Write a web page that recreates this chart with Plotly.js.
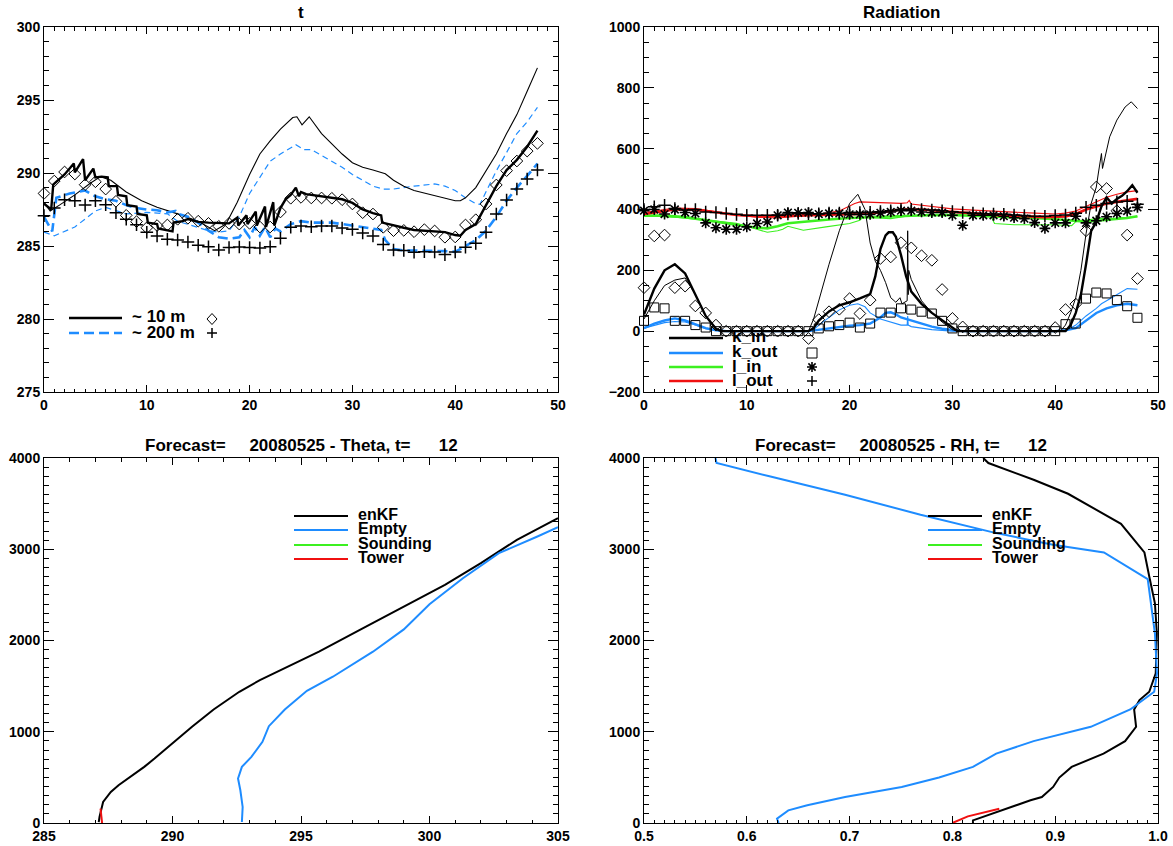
<!DOCTYPE html>
<html>
<head>
<meta charset="utf-8">
<script src="https://cdn.plot.ly/plotly-3.0.1.min.js"></script>
<style>html,body{margin:0;padding:0;background:#fff}#chart{width:1173px;height:846px}</style>
</head>
<body>
<div id="chart"></div>
<script>
// ---------------- DATA ----------------
// Panel "t": hourly observations
const hours = [0,1,2,3,4,5,6,7,8,9,10,11,12,13,14,15,16,17,18,19,20,21,22,23,24,25,26,27,28,29,30,31,32,33,34,35,36,37,38,39,40,41,42,43,44,45,46,47,48];
const t10Obs = [288.6,289.45,290.07,289.93,289.2,289.4,288.9,288.06,287.1,286.67,286.25,286.4,286.44,286.83,286.9,286.7,286.55,286.35,286.55,286.5,286.55,286.3,286.3,287.33,288.27,288.33,288.29,288.29,288.27,288.17,287.88,287.28,287.19,286.28,286.05,286.07,285.98,286.12,286.03,285.6,285.62,286.44,286.8,287.88,289.18,290.16,290.82,291.5,292.03];
const t200Obs = [287.08,287.6,288.17,288.1,287.8,288.1,287.83,287.28,286.83,286.46,285.94,285.68,285.46,285.41,285.27,285.05,284.95,284.73,284.9,284.93,284.89,284.86,284.95,285.53,286.28,286.37,286.32,286.37,286.37,286.23,286.14,285.89,285.68,285.11,284.73,284.7,284.57,284.61,284.59,284.41,284.59,284.91,285.18,285.94,287.19,288.15,288.9,289.59,290.21];

// Panel "t": model lines
const t10EnkfX = [0,0.7,0.9,2.0,2.9,3.0,3.8,4.0,4.8,5.0,5.6,6.2,6.3,7.1,7.2,8.0,8.1,9.0,9.1,10.0,10.1,11.0,11.1,12.5,12.6,13.5,14.0,15.0,16.0,17.0,18.0,18.8,18.9,19.7,19.8,20.6,20.7,21.5,21.6,22.3,22.4,23.0,23.5,24.0,24.5,24.8,25.0,25.5,26.0,27.0,28.0,29.0,30.0,31.0,32.0,32.8,32.9,34.0,35.0,36.0,37.0,38.0,39.0,40.0,40.5,41.0,42.0,43.0,44.0,45.0,46.0,47.0,48.0];
const t10EnkfY = [287.9,287.5,289.2,289.9,290.65,290.05,290.95,289.5,290.3,289.7,289.75,289.7,289.1,289.1,288.5,288.4,287.8,287.7,287.2,287.1,286.6,286.5,286.2,286.0,286.6,286.7,286.85,286.65,286.6,286.6,286.55,286.95,286.4,287.1,286.5,287.35,286.4,287.7,286.3,288.0,286.4,287.6,288.2,288.5,289.0,288.4,288.7,288.55,288.5,288.45,288.35,288.2,287.95,287.5,287.25,287.1,286.6,286.4,286.25,286.1,286.05,286.0,285.95,285.75,285.7,286.1,286.5,287.8,289.1,290.2,290.9,291.8,292.9];
const t10EmptyX = [0,0.6,1.5,3,4.5,5.5,6.5,8,9.5,11,13,15,16.6,17.7,18.8,20,21,22,23,24.2,24.6,25.1,25.8,27,28,29,30,31,32,33.2,34,35,36,38,40,40.5,41,42,43,44,45,46,47,48];
const t10EmptyY = [288.0,287.4,287.8,288.5,289.3,289.75,289.5,288.7,288.1,287.65,287.2,286.7,286.05,286.5,288.0,289.9,291.3,292.2,293.0,293.8,293.85,293.3,293.85,292.7,292.0,291.3,290.7,290.4,290.2,289.95,289.5,289.1,288.8,288.45,288.1,288.1,288.3,289.0,290.2,291.3,292.7,294.0,295.6,297.2];
const t200EnkfX = [0,0.6,0.8,1.2,2.5,4,5,6,7,8,9,10,11,12,12.8,13,14,15,16,17,18,19,19.5,20,20.5,21,21.5,22,22.5,23,24,25,26,27,28,29,30,31,32,32.8,33.2,34,35,36,37,38,39,40,41,42,43,44,45,46,47,48];
const t200EnkfY = [287.0,286.2,286.0,288.3,288.6,288.8,288.4,288.2,288.1,287.8,287.6,287.5,287.45,287.3,287.4,287.2,287.0,286.6,286.05,285.6,285.5,285.6,286.1,285.6,286.3,285.7,286.3,285.6,286.2,286.0,286.5,286.7,286.6,286.6,286.6,286.5,286.4,286.3,286.2,286.1,285.4,284.8,284.7,284.7,284.7,284.7,284.65,284.6,285.0,285.4,286.05,287.0,288.1,289.0,289.8,290.65];
const t200EmptyX = [0,1,3,5,6,8,10,12,13,15,16,17,18,19,20,21,22,23,24,24.5,25.3,26,27,28,29,30,31,32,33,34,36,38,39,40,41,42,42.4,43,44,45,46,47,48];
const t200EmptyY = [285.95,285.7,286.3,287.4,287.65,287.2,287.3,287.2,286.7,286.3,286.05,285.95,286.05,287.0,288.6,289.7,290.8,291.3,291.76,291.94,291.6,291.6,291.2,290.8,290.4,289.9,289.5,289.1,288.9,288.9,289.1,289.25,289.1,288.8,288.3,287.9,287.85,288.7,290.15,291.4,292.7,293.5,294.5];

// Panel "Radiation": hourly observations
const kInObs  = [143,313,316,143,148,83,60,20,0,0,0,0,0,0,0,0,-24,38,64,72,107,58,102,239,244,291,274,248,233,137,42,14,0,0,0,0,0,0,0,0,12,71,89,330,474,469,396,316,173];
const kOutObs = [34,78,75,34,34,20,12,0,0,0,0,0,0,0,0,0,0,9,16,20,28,12,25,61,61,75,71,64,58,34,9,0,0,0,0,0,0,0,0,0,0,23,25,107,127,124,102,82,44];
const lInObs  = [396,400,385,400,390,387,356,340,335,335,343,354,359,381,390,389,390,385,387,387,384,384,384,389,392,396,396,392,390,390,381,348,381,381,381,378,373,370,357,338,356,356,378,356,363,376,387,395,407];
const lOutObs = [400,409,414,403,398,400,392,390,387,384,381,381,381,381,385,387,386,386,388,388,390,390,391,393,396,400,401,400,398,396,393,390,388,386,385,384,382,380,378,378,380,382,388,407,414,420,425,427,417];

// Panel "Radiation": model lines
const kInEnkfX = [0,1,2,3,4,5,6,7,7.5,16,16.5,17,18,19,20,21,22,22.5,23,23.5,23.8,24.2,24.5,25,25.5,26,27,28,29,30,30.5,41,41.5,42,42.5,43,43.5,44,44.5,45,45.5,46,46.5,47,47.5,48];
const kInEnkfY = [55,140,200,220,190,120,50,8,0,0,10,35,65,85,95,108,122,180,270,315,325,325,310,250,180,130,90,60,35,10,0,0,20,60,120,220,330,360,410,440,420,435,445,460,480,455];
const kInEmptyX = [0,1,2,3,4,5,6,7,7.5,16,16.5,17,18,19,20,20.8,21.5,22,22.5,23,23.5,24,24.5,24.9,25.1,25.6,25.65,25.7,25.75,26,27,28,29,30,30.5,40.5,41,41.5,42,42.5,43,43.5,44,44.2,44.5,44.6,45.3,46,46.8,47.4,48];
const kInEmptyY = [40,100,150,168,175,120,50,10,0,0,40,100,220,330,420,450,400,290,230,200,160,110,95,110,90,100,330,120,200,170,100,60,30,5,0,0,20,60,110,200,320,420,474,520,584,535,639,694,737,754,732];
const kOutEnkfX = [0,1,2,3,4,5,6,7,8,16,17,18,19,20,21,22,23,23.5,24,24.5,25,26,27,28,29,30,31,40,41,42,43,44,45,46,47,48];
const kOutEnkfY = [10,25,35,42,35,22,10,3,0,0,5,10,15,18,20,25,45,60,62,55,45,35,25,15,8,3,0,0,3,10,35,60,75,85,90,85];
const kOutEmptyX = [0,1,2,3,4,5,6,7,8,16,16.5,17,18,19,20,20.8,21.5,22,23,24,24.5,25,25.6,25.65,25.7,26,27,28,30,41,42,43,44,44.5,45,46,47,48];
const kOutEmptyY = [10,20,28,32,30,20,8,2,0,0,5,20,45,70,85,90,80,60,40,30,25,20,20,50,20,15,10,5,0,0,20,50,75,90,100,120,140,138];
const lInEnkfX = [0,2,4,6,8,10,11,12,13,14,16,18,20,22,24,26,28,30,32,34,36,38,40,42,43,44,46,47,48];
const lInEnkfY = [380,380,375,365,355,345,340,338,345,355,362,367,372,375,378,380,382,382,380,378,375,372,368,362,360,363,368,372,378];
const lInEmptyX = [0,3,6,9,10.5,12,13,13.5,14,15.5,17.7,20,21,21.3,24,25,26,30,33.7,34.1,36,40,41.6,42,44,46,48];
const lInEmptyY = [380,375,365,355,340,325,330,335,345,332,343,354,365,375,370,376,380,380,381,354,350,350,347,360,370,372,376];
const lOutEnkfX = [0,3,5,7,9,11,13,15,17,19,21,23,25,27,29,31,33,35,37,39,41,42,43,44,45,46,47,48];
const lOutEnkfY = [385,400,400,390,382,378,378,380,382,383,385,390,400,400,395,390,385,380,378,375,377,385,400,410,420,425,430,435];
const lOutEmptyX = [0,3,5,7,9,11,13,15,17,19,20.5,21,23,25,25.6,25.8,26,28,30,32,35,38,40,41,42,43,44,45,46,47,48];
const lOutEmptyY = [390,405,403,392,382,375,372,378,385,395,420,425,422,420,422,430,418,410,402,398,392,388,385,388,395,410,425,440,450,458,462];

// Panel Theta profile
const thetaEnkfT = [287.13,287.16,287.3,287.6,287.9,288.9,289.3,289.9,290.76,291.6,292.6,293.4,294.2,295.7,297.4,299.1,300.6,302.0,303.4,305.0];
const thetaEnkfZ = [10,66,231,340,414,615,706,853,1054,1244,1438,1566,1676,1877,2133,2390,2609,2847,3103,3341];
const thetaEmptyT = [292.7,292.73,292.64,292.55,292.7,293.07,293.5,293.75,294.37,295.23,296.24,297.8,299.0,300.0,301.3,302.7,304.2,305.0];
const thetaEmptyZ = [11,176,359,487,615,725,889,1061,1244,1449,1603,1877,2122,2397,2682,2957,3140,3242];
const thetaTowerT = [287.26,287.23,287.2];
const thetaTowerZ = [0,66,157];

// Panel RH profile
const rhEnkfR = [0.83,0.835,0.879,0.9125,0.964,0.9868,0.9915,0.997,0.9989,0.9978,0.9915,0.982,0.9768,0.9787,0.968,0.947,0.916,0.904,0.898,0.887,0.876,0.857,0.82,0.82];
const rhEnkfZ = [4000,3945,3762,3608,3279,2965,2701,2408,2079,1640,1438,1347,1244,1054,897,761,615,498,395,285,249,176,29,0];
const rhEmptyR = [0.5695,0.5706,0.622,0.6956,0.769,0.8426,0.8978,0.9474,0.99,0.9934,0.997,0.999,0.9963,0.973,0.9346,0.879,0.8426,0.82,0.787,0.7507,0.6956,0.6588,0.6404,0.6294,0.631];
const rhEmptyZ = [4000,3945,3799,3598,3378,3177,3049,2965,2672,2371,2079,1640,1438,1244,1054,897,761,615,498,395,285,194,139,48,0];
const rhTowerR = [0.8,0.806,0.811,0.815,0.8456];
const rhTowerZ = [0,29,48,73,157];

// Text
const titles = ['t', 'Radiation',
  'Forecast=\u00a0\u00a0\u00a0\u00a0\u00a020080525 - Theta, t=\u00a0\u00a0\u00a0\u00a0\u00a0\u00a012',
  'Forecast=\u00a0\u00a0\u00a0\u00a0\u00a020080525 - RH, t=\u00a0\u00a0\u00a0\u00a0\u00a0\u00a012'];
const tLegend = ['~ 10 m', '~ 200 m'];
const radLegend = ['k_in', 'k_out', 'l_in', 'l_out'];
const profLegend = ['enKF', 'Empty', 'Sounding', 'Tower'];

// ---------------- STYLE ----------------
const BLUE = '#1e8cff', GREEN = '#3cf020', RED = '#f01010', BLACK = '#000000';
const FONT = 'Liberation Sans, Arial, Helvetica, sans-serif';
const W = 1173, H = 846;
const PX = v => v / W, PY = v => 1 - v / H;

function ln(x, y, xa, ya, color, width, dash) {
  return {x, y, xaxis: xa, yaxis: ya, type: 'scatter', mode: 'lines', hoverinfo: 'skip', showlegend: false,
    line: {color, width, dash: dash || 'solid'}};
}
function mk(x, y, xa, ya, symbol, size, lw) {
  return {x, y, xaxis: xa, yaxis: ya, type: 'scatter', mode: 'markers', hoverinfo: 'skip', showlegend: false, cliponaxis: false,
    marker: {symbol, size, color: BLACK, line: {color: BLACK, width: lw}}};
}

const traces = [
  // t
  ln(t200EmptyX, t200EmptyY, 'x', 'y', BLUE, 1.2, '6px,4px'),
  ln(t10EmptyX, t10EmptyY, 'x', 'y', BLACK, 1.1),
  ln(t200EnkfX, t200EnkfY, 'x', 'y', BLUE, 2.6, '10px,5px'),
  ln(t10EnkfX, t10EnkfY, 'x', 'y', BLACK, 2.4),
  mk(hours, t10Obs, 'x', 'y', 'diamond-open', 9, 1),
  mk(hours, t200Obs, 'x', 'y', 'cross-thin-open', 9, 1.5),
  // Radiation
  ln(lInEmptyX, lInEmptyY, 'x2', 'y2', GREEN, 1.1),
  ln(lInEnkfX, lInEnkfY, 'x2', 'y2', GREEN, 2.6),
  ln(lOutEmptyX, lOutEmptyY, 'x2', 'y2', RED, 1.1),
  ln(lOutEnkfX, lOutEnkfY, 'x2', 'y2', RED, 2.6),
  ln(kOutEmptyX, kOutEmptyY, 'x2', 'y2', BLUE, 1.1),
  ln(kOutEnkfX, kOutEnkfY, 'x2', 'y2', BLUE, 2.4),
  ln(kInEmptyX, kInEmptyY, 'x2', 'y2', BLACK, 1.0),
  ln(kInEnkfX, kInEnkfY, 'x2', 'y2', BLACK, 2.4),
  mk(hours, kInObs, 'x2', 'y2', 'diamond-open', 9, 1),
  mk(hours, kOutObs, 'x2', 'y2', 'square-open', 9, 1),
  mk(hours, lInObs, 'x2', 'y2', 'asterisk-open', 9, 1.6),
  mk(hours, lOutObs, 'x2', 'y2', 'cross-thin-open', 9, 1.5),
  // Theta profile
  ln(thetaEnkfT, thetaEnkfZ, 'x3', 'y3', BLACK, 2),
  ln(thetaEmptyT, thetaEmptyZ, 'x3', 'y3', BLUE, 2),
  ln(thetaTowerT, thetaTowerZ, 'x3', 'y3', RED, 2),
  // RH profile
  ln(rhEnkfR, rhEnkfZ, 'x4', 'y4', BLACK, 2),
  ln(rhEmptyR, rhEmptyZ, 'x4', 'y4', BLUE, 2),
  ln(rhTowerR, rhTowerZ, 'x4', 'y4', RED, 2)
];

const tickFont = {family: FONT, size: 14, color: BLACK, weight: 'bold'};
function ax(range, domain, dtick, minor, len, mlen, anchor, fmt) {
  const a = {range, domain, dtick, tick0: range[0], anchor, showgrid: false, zeroline: false,
    showline: true, linecolor: BLACK, linewidth: 1, mirror: 'allticks',
    ticks: 'inside', ticklen: len, tickwidth: 1, tickcolor: BLACK, tickfont: tickFont,
    minor: {dtick: minor, ticks: 'inside', ticklen: mlen, tickwidth: 1, tickcolor: BLACK, showgrid: false},
    fixedrange: true, automargin: false};
  if (fmt) a.tickformat = fmt;
  return a;
}
const dL = [PX(44), PX(558)], dR = [PX(644), PX(1158)];
const dT = [PY(392), PY(27)], dB = [PY(823), PY(458)];

// legend helpers (decorations, paper coordinates)
const shapes = [], annotations = [];
function legLine(x0, x1, y, color, width, dash) {
  shapes.push({type: 'line', xref: 'paper', yref: 'paper', x0: PX(x0), x1: PX(x1), y0: PY(y), y1: PY(y),
    line: {color, width, dash: dash || 'solid'}});
}
function legText(x, y, text, size) {
  annotations.push({xref: 'paper', yref: 'paper', x: PX(x), y: PY(y), xanchor: 'left', yanchor: 'middle',
    text, showarrow: false, borderpad: 0, font: {family: FONT, size: size || 16, color: BLACK, weight: 'bold'}});
}
function legPath(x, y, path, w) {
  shapes.push({type: 'path', xref: 'paper', yref: 'paper', xsizemode: 'pixel', ysizemode: 'pixel',
    xanchor: PX(x), yanchor: PY(y), path, line: {color: BLACK, width: w || 1}});
}
const DIAMOND = 'M -5 0 L 0 5.5 L 5 0 L 0 -5.5 Z';
const PLUS = 'M -5 0 L 5 0 M 0 -5 L 0 5';
const SQUARE = 'M -5 -5 L 5 -5 L 5 5 L -5 5 Z';
const AST = 'M -5 0 L 5 0 M 0 -5 L 0 5 M -3.6 -3.6 L 3.6 3.6 M -3.6 3.6 L 3.6 -3.6';

// titles
[[301, 13], [901, 13], [301, 445], [901, 445]].forEach((p, i) => {
  annotations.push({xref: 'paper', yref: 'paper', x: PX(p[0]), y: PY(p[1]), xanchor: 'center', yanchor: 'middle',
    text: titles[i], showarrow: false, font: {family: FONT, size: 17, color: BLACK, weight: 'bold'}});
});

// t legend
legLine(69, 122, 318, BLACK, 2.6);
legLine(69, 122, 333, BLUE, 2.6, '10px,5px');
legText(131, 317, tLegend[0], 17);
legText(131, 332, tLegend[1], 17);
legPath(212, 319, DIAMOND, 1);
legPath(212, 333, PLUS, 1.5);

// radiation legend
const radCol = [BLACK, BLUE, GREEN, RED];
const radY = [338, 353, 367, 381];
radLegend.forEach((t, i) => { legLine(669, 723, radY[i], radCol[i], 2.6); legText(731, radY[i] - 1, t, 17); });
legPath(812, 353, SQUARE, 1);
legPath(812, 367, AST, 1.6);
legPath(812, 381, PLUS, 1.5);

// profile legends
const profCol = [BLACK, BLUE, GREEN, RED];
const profY = [516, 530, 545, 559];
profLegend.forEach((t, i) => {
  legLine(294, 348, profY[i], profCol[i], 2); legText(357, profY[i] - 2, t);
  legLine(928, 982, profY[i], profCol[i], 2); legText(991, profY[i] - 2, t);
});

const layout = {
  width: W, height: H, margin: {l: 0, r: 0, t: 0, b: 0},
  paper_bgcolor: '#ffffff', plot_bgcolor: '#ffffff', showlegend: false,
  font: {family: FONT, color: BLACK},
  xaxis: ax([0, 50], dL, 10, 1, 7, 3.5, 'y'),
  yaxis: ax([275, 300], dT, 5, 1, 10, 5, 'x'),
  xaxis2: ax([0, 50], dR, 10, 1, 7, 3.5, 'y2'),
  yaxis2: ax([-200, 1000], dT, 200, 50, 10, 5, 'x2'),
  xaxis3: ax([285, 305], dL, 5, 1, 7, 3.5, 'y3'),
  yaxis3: ax([0, 4000], dB, 1000, 100, 10, 5, 'x3'),
  xaxis4: ax([0.5, 1.0], dR, 0.1, 0.01, 7, 3.5, 'y4', '.1f'),
  yaxis4: ax([0, 4000], dB, 1000, 100, 10, 5, 'x4'),
  shapes, annotations
};

Plotly.newPlot('chart', traces, layout, {staticPlot: true, displayModeBar: false});
</script>
</body>
</html>
